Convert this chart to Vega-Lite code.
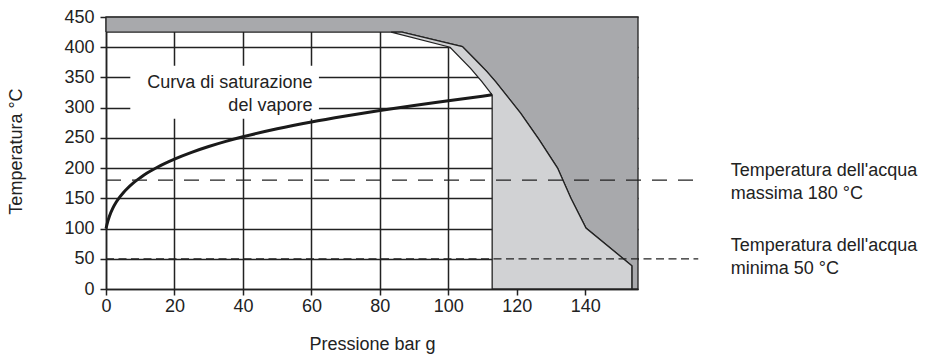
{
  "$schema": "https://vega.github.io/schema/vega-lite/v6.json",
  "width": 532,
  "height": 272,
  "autosize": {"type": "none"},
  "padding": {"left": 106, "top": 17, "right": 288, "bottom": 67},
  "background": "white",
  "config": {
    "view": {"stroke": null},
    "font": "Liberation Sans",
    "axis": {
      "labelFont": "Liberation Sans",
      "titleFont": "Liberation Sans",
      "labelFontSize": 18,
      "titleFontSize": 18,
      "titleFontWeight": "normal",
      "labelColor": "#222",
      "titleColor": "#222",
      "domainColor": "#222",
      "domainWidth": 1.5,
      "tickColor": "#222",
      "tickWidth": 1.5,
      "tickSize": 6,
      "gridColor": "#222",
      "gridWidth": 1.5,
      "gridOpacity": 1
    }
  },
  "datasets": {
    "dark": [
      {"i": 1, "p": 0, "t": 425},
      {"i": 2, "p": 0, "t": 450},
      {"i": 3, "p": 155.4, "t": 450},
      {"i": 4, "p": 155.4, "t": 0},
      {"i": 5, "p": 153.6, "t": 0},
      {"i": 6, "p": 153.6, "t": 38.5},
      {"i": 7, "p": 140.2, "t": 100.8},
      {"i": 8, "p": 135.8, "t": 150},
      {"i": 9, "p": 131.9, "t": 200},
      {"i": 10, "p": 126.5, "t": 247},
      {"i": 11, "p": 121.1, "t": 291},
      {"i": 12, "p": 113.8, "t": 343},
      {"i": 13, "p": 111.2, "t": 360},
      {"i": 14, "p": 108.9, "t": 373.5},
      {"i": 15, "p": 104.1, "t": 401},
      {"i": 16, "p": 86.5, "t": 425},
      {"i": 17, "p": 0, "t": 425}
    ],
    "light": [
      {"i": 1, "p": 112.8, "t": 0},
      {"i": 2, "p": 112.8, "t": 321},
      {"i": 3, "p": 109.8, "t": 343},
      {"i": 4, "p": 106.5, "t": 365},
      {"i": 5, "p": 100.5, "t": 400},
      {"i": 6, "p": 83.3, "t": 425},
      {"i": 7, "p": 86.5, "t": 425},
      {"i": 8, "p": 104.1, "t": 401},
      {"i": 9, "p": 108.9, "t": 373.5},
      {"i": 10, "p": 111.2, "t": 360},
      {"i": 11, "p": 113.8, "t": 343},
      {"i": 12, "p": 121.1, "t": 291},
      {"i": 13, "p": 126.5, "t": 247},
      {"i": 14, "p": 131.9, "t": 200},
      {"i": 15, "p": 135.8, "t": 150},
      {"i": 16, "p": 140.2, "t": 100.8},
      {"i": 17, "p": 153.6, "t": 38.5},
      {"i": 18, "p": 153.6, "t": 0},
      {"i": 19, "p": 112.8, "t": 0}
    ],
    "sat": [
      {"p": 0, "t": 100},
      {"p": 0.5, "t": 111.4},
      {"p": 1, "t": 120.4},
      {"p": 2, "t": 133.7},
      {"p": 3, "t": 143.8},
      {"p": 4, "t": 152},
      {"p": 5, "t": 159},
      {"p": 6, "t": 165},
      {"p": 8, "t": 175.5},
      {"p": 10, "t": 184.1},
      {"p": 12, "t": 191.8},
      {"p": 15, "t": 201.5},
      {"p": 20, "t": 214.9},
      {"p": 25, "t": 226.1},
      {"p": 30, "t": 235.7},
      {"p": 35, "t": 244.2},
      {"p": 40, "t": 251.8},
      {"p": 50, "t": 265},
      {"p": 60, "t": 276.3},
      {"p": 70, "t": 286.2},
      {"p": 80, "t": 295.4},
      {"p": 90, "t": 303.6},
      {"p": 100, "t": 311.3},
      {"p": 112.8, "t": 321.3}
    ]
  },
  "encoding": {
    "x": {
      "field": "p",
      "type": "quantitative",
      "scale": {"domain": [0, 155.4], "nice": false, "zero": false},
      "axis": {
        "title": "Pressione bar g",
        "values": [0, 20, 40, 60, 80, 100, 120, 140],
        "labelPadding": 2,
        "titlePadding": 20,
        "labelFlush": false
      }
    },
    "y": {
      "field": "t",
      "type": "quantitative",
      "scale": {"domain": [0, 450], "nice": false, "zero": false},
      "axis": {
        "title": "Temperatura °C",
        "values": [0, 50, 100, 150, 200, 250, 300, 350, 400, 450],
        "labelPadding": 6,
        "titleX": -90,
        "titleY": 134,
        "titleBaseline": "middle",
        "labelFlush": false
      }
    }
  },
  "layer": [
    {
      "data": {"name": "dark"},
      "mark": {"type": "line", "fill": "#a8a9ac", "stroke": "#222", "strokeWidth": 1.3},
      "encoding": {"order": {"field": "i", "type": "quantitative"}}
    },
    {
      "data": {"name": "light"},
      "mark": {"type": "line", "fill": "#d1d2d4", "stroke": "#222", "strokeWidth": 1.3},
      "encoding": {"order": {"field": "i", "type": "quantitative"}}
    },
    {
      "data": {"values": [{"p": 7.1, "p2": 62.2, "t": 281.5, "t2": 369.5}]},
      "mark": {"type": "rect", "fill": "white", "stroke": null},
      "encoding": {
        "x2": {"field": "p2"},
        "y2": {"field": "t2"}
      }
    },
    {
      "data": {"name": "sat"},
      "mark": {"type": "line", "stroke": "#1a1a1a", "strokeWidth": 3, "interpolate": "monotone"},
      "encoding": {}
    },
    {
      "data": {"values": [{"p": 0, "p2": 173, "t": 180}]},
      "mark": {"type": "rule", "stroke": "#222", "strokeWidth": 1.3, "strokeDash": [15, 11]},
      "encoding": {"x2": {"field": "p2"}}
    },
    {
      "data": {"values": [{"p": 0, "p2": 173, "t": 50}]},
      "mark": {"type": "rule", "stroke": "#222", "strokeWidth": 1.3, "strokeDash": [8, 4.5]},
      "encoding": {"x2": {"field": "p2"}}
    },
    {
      "data": {"values": [
        {"p": 60.3, "t": 341.5, "label": ["Curva di saturazione", "del vapore"]}
      ]},
      "mark": {"type": "text", "align": "right", "baseline": "middle", "fontSize": 18, "lineHeight": 23, "color": "#222", "font": "Liberation Sans"},
      "encoding": {"text": {"field": "label"}}
    },
    {
      "data": {"values": [
        {"p": 182.5, "t": 194.4, "label": ["Temperatura dell'acqua", "massima 180 °C"]},
        {"p": 182.5, "t": 71.1, "label": ["Temperatura dell'acqua", "minima 50 °C"]}
      ]},
      "mark": {"type": "text", "align": "left", "baseline": "middle", "fontSize": 18, "lineHeight": 22.5, "color": "#222", "font": "Liberation Sans"},
      "encoding": {"text": {"field": "label"}}
    }
  ]
}
